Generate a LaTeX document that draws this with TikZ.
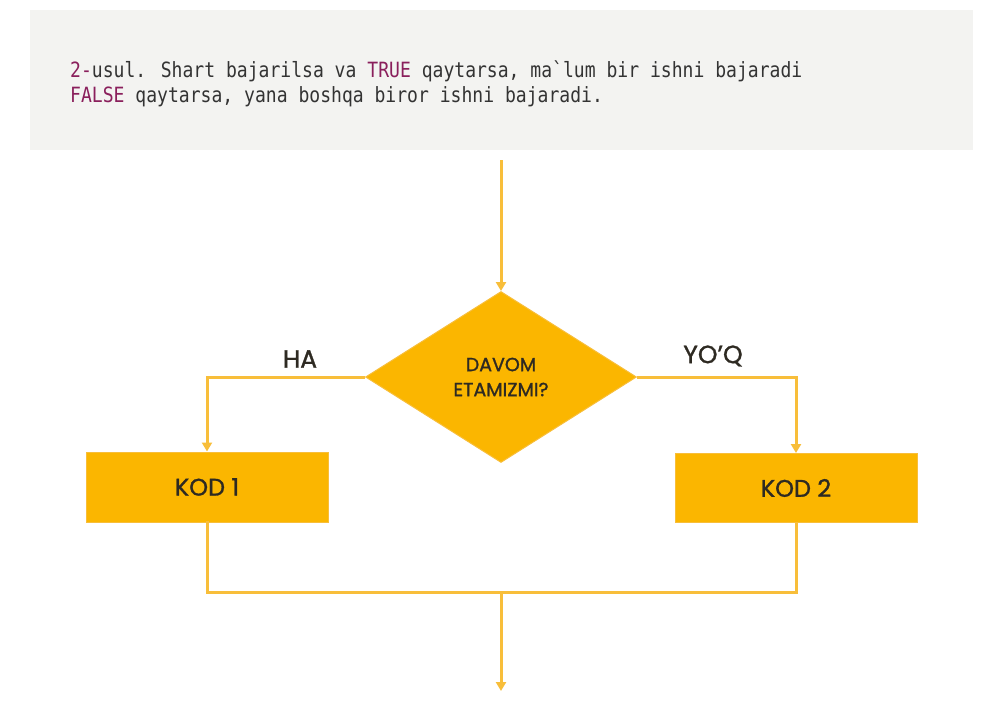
\documentclass[tikz,border=0pt]{standalone}
\usepackage{fontspec}
\setmainfont{Poppins}[FakeBold=1.2]
\newfontfamily\codefont{DejaVu Sans Mono}
\usetikzlibrary{shapes.geometric,arrows.meta}
\definecolor{boxfill}{HTML}{FBB600}
\definecolor{linecol}{HTML}{F8BE3A}
\definecolor{txt}{HTML}{2E2A22}
\definecolor{panel}{HTML}{F3F3F1}
\definecolor{kw}{HTML}{8A1F5C}
\definecolor{codetxt}{HTML}{333333}
\begin{document}
\begin{tikzpicture}[x=1pt,y=-1pt,
  conn/.style={draw=linecol,line width=3pt},
  arr/.style={conn,-{Triangle[length=9pt,width=10pt]}},
  proc/.style={draw=linecol,line width=1pt,fill=boxfill,minimum width=242pt,minimum height=70pt,inner sep=0pt,text=txt,font=\fontsize{24}{28}\selectfont},
  decision/.style={diamond,draw=linecol,line width=1pt,fill=boxfill,minimum width=271pt,minimum height=171pt,inner sep=0pt,aspect=1.585,text=txt,font=\fontsize{19}{25}\selectfont,align=center},
  lbl/.style={text=txt,font=\fontsize{25}{28}\selectfont},
  code/.style={anchor=base west,inner sep=0pt,text=codetxt,font=\codefont\fontsize{21}{24}\selectfont}
]
\useasboundingbox (0,0) rectangle (1001,720);
\fill[white] (0,0) rectangle (1001,720);
\fill[panel] (30,10) rectangle (973,150);
\node[code] (l1) at (70,77)
  {\scalebox{0.86}[1]{\textcolor{kw}{2-}usul. Shart bajarilsa va \textcolor{kw}{TRUE} qaytarsa, ma`lum bir ishni bajaradi}};
\node[code] (l2) at (70,102)
  {\scalebox{0.86}[1]{\textcolor{kw}{FALSE} qaytarsa, yana boshqa biror ishni bajaradi.}};

\coordinate (start) at (501,160);
\node[decision] (d) at (501,377) {DAVOM\\[0pt]ETAMIZMI?};
\node[proc] (k1) at (207,487) {KOD 1};
\node[proc,minimum height=69pt] (k2) at (796,488) {KOD 2};
\coordinate (jl) at (207,592);
\coordinate (jr) at (796,592);
\coordinate (jm) at (501,592);
\coordinate (end) at (501,691);

\draw[arr] (start) -- (d.north);
\draw[arr] (d.west) -| (k1.north);
\draw[arr] (d.east) -| (k2.north);
\draw[conn,line cap=rect] (k1.south) -- (jl) -- (jr) -- (k2.south);
\draw[arr] (jm) -- (end);

\node[lbl] (ha) at (300,359) {HA};
\node[lbl] (yoq) at (713,356) {YO’Q};
\end{tikzpicture}
\end{document}
